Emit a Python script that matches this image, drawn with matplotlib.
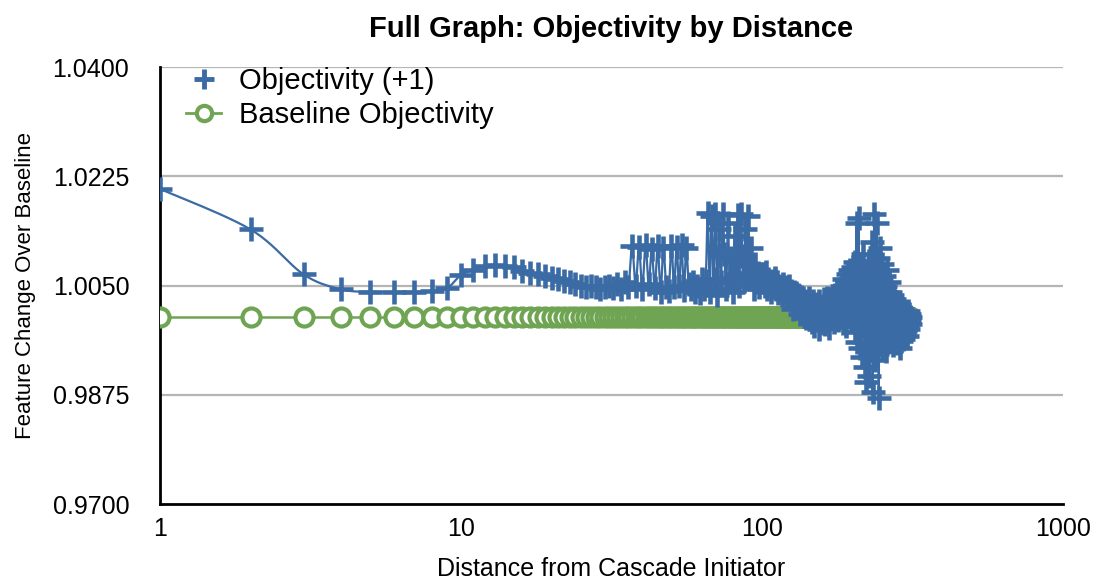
import matplotlib
matplotlib.use("Agg")
import matplotlib.pyplot as plt
from matplotlib.lines import Line2D
import numpy as np

# ---- data -----------------------------------------------------------------
objectivity = [
    1.0205, 1.0140, 1.0068, 1.0044, 1.0040, 1.0040, 1.0040, 1.0041, 1.0046, 1.0067,
    1.0075, 1.0082, 1.0083, 1.0082, 1.0080, 1.0073, 1.0070, 1.0068, 1.0065, 1.0062,
    1.0060, 1.0058, 1.0055, 1.0052, 1.0050, 1.0048, 1.0050, 1.0047, 1.0045, 1.0048,
    1.0050, 1.0046, 1.0052, 1.0044, 1.0055, 1.0048, 1.0114, 1.0050, 1.0112, 1.0045,
    1.0115, 1.0052, 1.0108, 1.0046, 1.0113, 1.0040, 1.0110, 1.0048, 1.0042, 1.0114,
    1.0047, 1.0112, 1.0050, 1.0115, 1.0043, 1.0110, 1.0052, 1.0045, 1.0055, 1.0040,
    1.0050, 1.0038, 1.0060, 1.0045, 1.0058, 1.0166, 1.0040, 1.0162, 1.0060, 1.0165,
    1.0035, 1.0140, 1.0055, 1.0164, 1.0100, 1.0045, 1.0150, 1.0062, 1.0095, 1.0040,
    1.0130, 1.0068, 1.0163, 1.0050, 1.0165, 1.0098, 1.0058, 1.0140, 1.0070, 1.0162,
    1.0060, 1.0110, 1.0075, 1.0045, 1.0085, 1.0055, 1.0070, 1.0048, 1.0062, 1.0058,
    1.0066, 1.0050, 1.0072, 1.0045, 1.0060, 1.0052, 1.0040, 1.0058, 1.0048, 1.0062,
    1.0044, 1.0055, 1.0038, 1.0050, 1.0046, 1.0035, 1.0052, 1.0040, 1.0048, 1.0030,
    1.0045, 1.0036, 1.0050, 1.0028, 1.0042, 1.0033, 1.0012, 1.0040, 1.0025, 1.0038,
    1.0020, 1.0035, 1.0028, 1.0005, 1.0032, 1.0018, 1.0030, 1.0010, 1.0025, 0.9998,
    1.0022, 1.0012, 1.0030, 1.0003, 1.0018, 0.9992, 1.0015, 1.0025, 0.9985, 1.0010,
    1.0020, 0.9995, 1.0008, 1.0025, 0.9980, 1.0012, 1.0002, 1.0018, 0.9990, 1.0028,
    1.0005, 0.9988, 1.0015, 1.0030, 0.9995, 1.0010, 0.9982, 1.0022, 1.0008, 0.9998,
    1.0025, 1.0012, 0.9992, 1.0035, 1.0018, 1.0005, 1.0040, 0.9995, 1.0028, 1.0015,
    1.0045, 1.0008, 1.0032, 1.0050, 0.9990, 1.0038, 1.0060, 1.0020, 1.0042, 0.9985,
    1.0055, 1.0030, 1.0068, 1.0012, 1.0048, 1.0075, 0.9995, 1.0060, 1.0035, 1.0080,
    1.0010, 1.0065, 0.9975, 1.0088, 1.0040, 1.0150, 0.9960, 1.0070, 1.0158, 1.0025,
    0.9950, 1.0085, 1.0040, 0.9935, 1.0060, 1.0100, 0.9985, 1.0070, 0.9920, 1.0050,
    1.0030, 0.9895, 1.0065, 1.0010, 0.9945, 1.0090, 0.9905, 1.0045, 0.9975, 1.0080,
    0.9960, 1.0120, 0.9880, 1.0060, 1.0015, 1.0165, 0.9930, 1.0075, 0.9990, 1.0150,
    0.9940, 1.0095, 1.0030, 0.9870, 1.0070, 0.9965, 1.0110, 0.9985, 1.0060, 0.9950,
    1.0085, 1.0010, 0.9970, 1.0065, 0.9995, 1.0050, 0.9945, 1.0040, 1.0075, 0.9980,
    1.0030, 0.9960, 1.0055, 1.0010, 0.9985, 1.0040, 0.9965, 1.0025, 0.9990, 1.0035,
    0.9975, 1.0015, 0.9955, 1.0028, 0.9995, 0.9960, 1.0020, 0.9985, 0.9970, 1.0010,
    0.9958, 0.9995, 1.0018, 0.9965, 0.9990, 0.9950, 1.0005, 0.9975, 0.9962, 0.9998,
    0.9980, 1.0012, 0.9965, 0.9985, 1.0005, 0.9972, 0.9990, 1.0008, 0.9978, 0.9995,
    1.0002, 0.9985, 0.9970, 1.0010, 0.9992, 0.9980, 1.0005, 0.9995, 0.9988, 1.0000,
]
distance = list(range(1, len(objectivity) + 1))
baseline = [1.0] * len(distance)

y_ticks = [0.9700, 0.9875, 1.0050, 1.0225, 1.0400]
x_ticks = [1, 10, 100, 1000]

BLUE = "#3b6ba5"
GREEN = "#6fa552"
plt.rcParams["font.family"] = ["Liberation Sans", "DejaVu Sans"]


def smooth(xs, ys, sx=301.0, sy=6243.0, n=12):
    """Catmull-Rom curve through the points, computed in log-x pixel space."""
    u = np.log10(np.asarray(xs, float)) * sx
    v = np.asarray(ys, float) * sy
    pu = np.concatenate([[u[0]], u, [u[-1]]])
    pv = np.concatenate([[v[0]], v, [v[-1]]])
    t = np.linspace(0, 1, n, endpoint=False)[:, None]
    out_u, out_v = [], []
    for i in range(1, len(pu) - 2):
        for p, out in ((pu, out_u), (pv, out_v)):
            p0, p1, p2, p3 = p[i - 1], p[i], p[i + 1], p[i + 2]
            seg = 0.5 * (2 * p1 + (-p0 + p2) * t + (2 * p0 - 5 * p1 + 4 * p2 - p3) * t ** 2
                         + (-p0 + 3 * p1 - 3 * p2 + p3) * t ** 3)
            out.extend(seg.ravel())
    out_u.append(u[-1]); out_v.append(v[-1])
    return 10 ** (np.array(out_u) / sx), np.array(out_v) / sy


fig = plt.figure(figsize=(11.18, 5.79), dpi=100)
ax = fig.add_axes([0.143, 0.1295, 0.808, 0.7545])
ax.set_xscale("log")
ax.set_xlim(1, 1000)
ax.set_ylim(0.97, 1.04)

for yt in y_ticks[1:]:
    ax.axhline(yt, color="#b5b5b5", lw=1.6, zorder=0)

# baseline
ax.plot(distance, baseline, "-", color=GREEN, lw=1.8, zorder=2)
ax.plot(distance, baseline, "o", ms=13, mfc="white", mec=GREEN, mew=3, zorder=3)

# objectivity (+1)
sxv, syv = smooth(distance, objectivity)
ax.plot(sxv, syv, "-", color=BLUE, lw=1.6, zorder=4)
ax.plot(distance, objectivity, "+", ms=17, mew=3.3, color=BLUE, zorder=5)

ax.set_xticks(x_ticks)
ax.set_xticklabels([str(v) for v in x_ticks], fontsize=18)
ax.set_yticks(y_ticks)
ax.set_yticklabels([f"{v:.4f}" for v in y_ticks], fontsize=18)
ax.minorticks_off()
ax.tick_params(axis="x", length=0, pad=9)
ax.tick_params(axis="y", length=0, pad=22)
for s in ("top", "right"):
    ax.spines[s].set_visible(False)
for s in ("left", "bottom"):
    ax.spines[s].set_linewidth(2)

ax.set_xlabel("Distance from Cascade Initiator", fontsize=18, labelpad=12)
ax.set_ylabel("Feature Change Over Baseline", fontsize=16, labelpad=12)
ax.set_title("Full Graph: Objectivity by Distance", fontsize=21, fontweight="bold", pad=22)

handles = [
    Line2D([], [], ls="none", marker="+", ms=14, mew=3.5, color=BLUE),
    Line2D([], [], ls="-", lw=2, color=GREEN, marker="o", ms=11, mfc="white", mec=GREEN, mew=3),
]
ax.legend(handles, ["Objectivity (+1)", "Baseline Objectivity"], loc="upper left",
          bbox_to_anchor=(0.0, 1.06), frameon=False, fontsize=21, handlelength=1.2,
          handletextpad=0.6, labelspacing=0.2)

fig.savefig("out.png", dpi=100)
